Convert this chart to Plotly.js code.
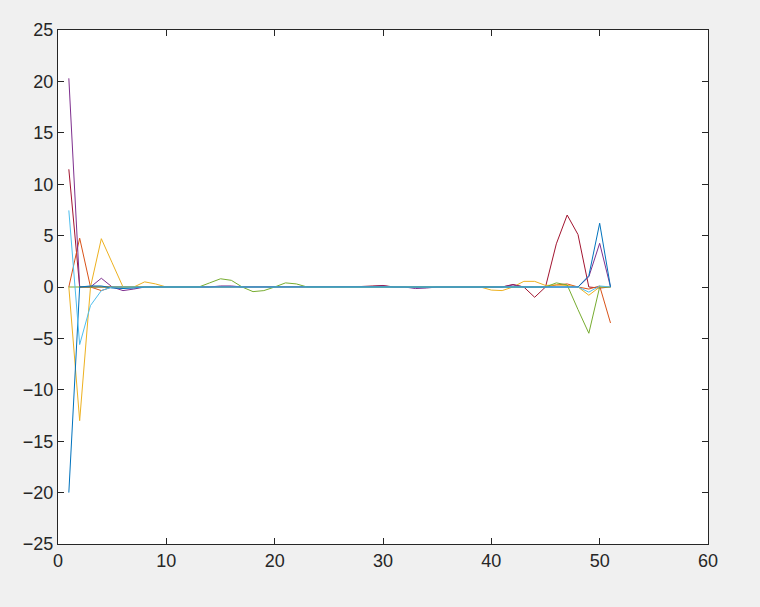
<!DOCTYPE html>
<html>
<head>
<meta charset="utf-8">
<script src="https://cdn.plot.ly/plotly-3.0.1.min.js"></script>
<style>
html,body{margin:0;padding:0;background:#f0f0f0;}
#chart{width:760px;height:607px;}
</style>
</head>
<body>
<div id="chart"></div>
<script>
// x positions (sample index)
const xs = [1,2,3,4,5,6,7,8,9,10,11,12,13,14,15,16,17,18,19,20,21,22,23,24,25,26,27,28,29,30,31,32,33,34,35,36,37,38,39,40,41,42,43,44,45,46,47,48,49,50,51];

const s1 = [-20, 0, 0.1, 0.1, -0.1, -0.15, -0.1, 0, 0, 0,
  0, 0, 0, 0, 0, 0.05, 0.05, 0, 0, 0,
  0, 0, 0, 0, 0, 0, 0, 0, 0, 0,
  0, 0, 0, 0, 0, 0, 0, 0, 0, 0,
  0, 0, 0, 0, 0, 0, 0, 0, 1.1, 6.2,
  0];
const s2 = [0, 4.75, 0, -0.35, 0, 0, 0, 0, 0, 0,
  0, 0, 0, 0, 0, 0, 0, 0, 0, 0,
  0, 0, 0, 0, 0, 0, 0, 0, 0, 0,
  0, 0, 0, 0, 0, 0, 0, 0, 0, 0,
  0, 0, 0, 0, 0, 0.2, 0.3, 0, -0.2, 0.1,
  -3.5];
const s3 = [0, -13, 0, 4.7, 2.35, 0, 0, 0.5, 0.3, 0,
  0, 0, 0, 0, 0, 0, 0, 0, 0, 0,
  0, 0, 0, 0, 0, 0, 0, 0, 0, 0,
  0, 0, 0, 0, 0, 0, 0, 0, 0, -0.3,
  -0.35, 0, 0.55, 0.55, 0.15, 0.2, 0.15, 0, -0.8, 0,
  0];
const s4 = [20.3, 0, 0, 0.85, 0, -0.35, -0.2, 0, 0, 0,
  0, 0, 0, 0, 0.1, 0.1, 0, 0, 0, 0,
  0, 0, 0, 0, 0, 0, 0, 0, 0.05, 0.1,
  0, 0, -0.15, -0.1, 0, 0, 0, 0, 0, 0,
  0, 0.2, 0, 0, 0, 0, 0, 0, 1.0, 4.25,
  0];
const s5 = [0, 0, 0, 0, 0, 0, 0, 0, 0, 0,
  0, 0, 0, 0.4, 0.8, 0.65, 0, -0.45, -0.35, 0,
  0.4, 0.3, 0, 0, 0, 0, 0, 0, 0, 0,
  0, 0, 0, 0, 0, 0, 0, 0, 0, 0,
  0, 0, 0, 0, 0, 0.4, 0.2, -2.2, -4.5, 0,
  0];
const s6 = [7.45, -5.6, -1.8, -0.35, 0, 0, 0, 0, 0, 0,
  0, 0, 0, 0, 0, 0, 0, 0, 0, 0,
  0, 0, 0, 0, 0, 0, 0, 0, 0, 0,
  0, 0, 0, 0, 0, 0, 0, 0, 0, 0,
  0, 0, 0, 0, 0, 0, 0, 0, -0.5, 0.1,
  0];
const s7 = [11.45, 0, 0, 0, 0, 0, 0, 0, 0, 0,
  0, 0, 0, 0, 0, 0, 0, 0, 0, 0,
  0, 0, 0, 0, 0, 0, 0, 0.05, 0.1, 0.15,
  0, 0, 0, 0, 0, 0, 0, 0, 0, 0,
  0, 0.25, 0, -1.0, 0, 4.2, 7.0, 5.1, 0, -0.1,
  0];

// draw order: dark red first so the bluish lines lie on top along the baseline
const seriesList = [s7, s2, s3, s4, s5, s1, s6];
const colors = ['#A2142F','#D95319','#EDB120','#7E2F8E','#77AC30','#0072BD','#4DBEEE'];

const traces = seriesList.map((ys, i) => ({
  x: xs, y: ys, type: 'scatter', mode: 'lines',
  line: {color: colors[i], width: 1},
  hoverinfo: 'skip', showlegend: false
}));

const axisCommon = {
  showgrid: false, zeroline: false, showline: true,
  linecolor: '#262626', linewidth: 1, mirror: 'allticks',
  ticks: 'inside', ticklen: 6, tickcolor: '#262626', tickwidth: 1,
  tickfont: {family: 'Liberation Sans, Arial, sans-serif', size: 18, color: '#262626'}
};

const layout = {
  width: 760, height: 607,
  paper_bgcolor: '#f0f0f0', plot_bgcolor: '#ffffff',
  margin: {l: 58, r: 52, t: 30, b: 63},
  xaxis: Object.assign({}, axisCommon, {range: [0, 60], dtick: 10, tick0: 0}),
  yaxis: Object.assign({}, axisCommon, {range: [-25, 25], dtick: 5, tick0: 0}),
  showlegend: false
};

Plotly.newPlot('chart', traces, layout, {staticPlot: true, displayModeBar: false});
</script>
</body>
</html>
